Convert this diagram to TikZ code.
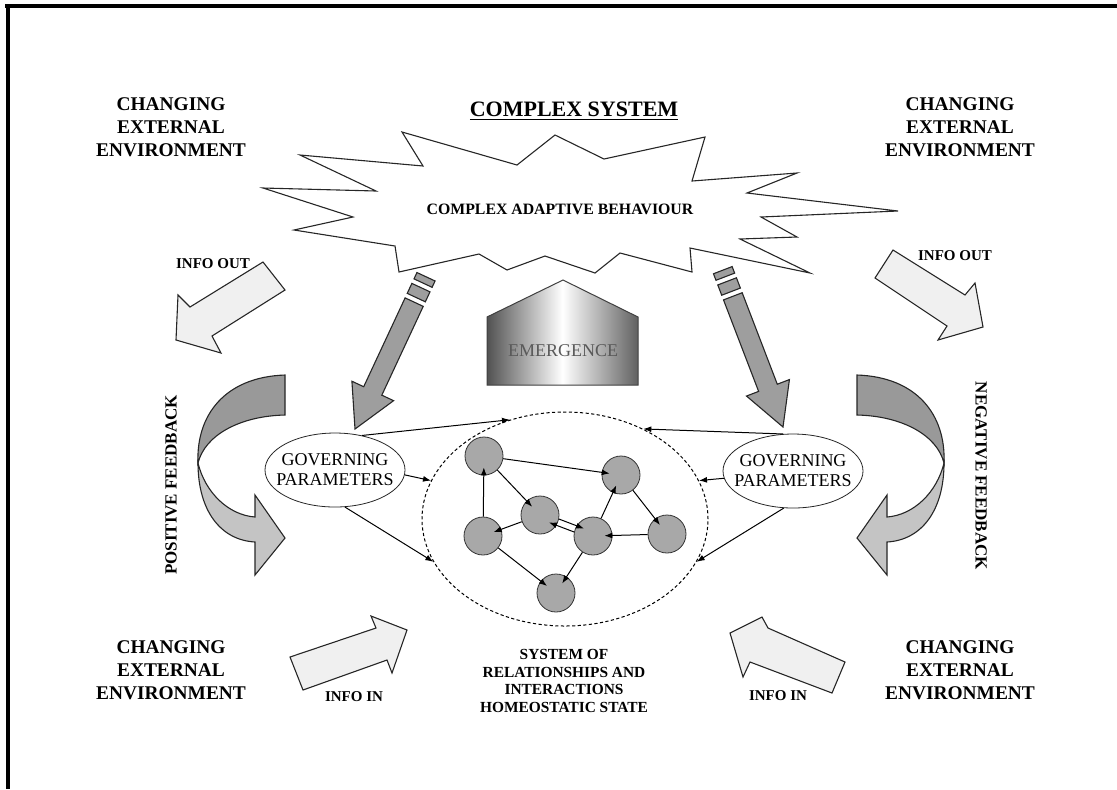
\documentclass[tikz,border=0pt]{standalone}
\usepackage{fontspec}
\setmainfont{Liberation Serif}
\usepackage{tikz}
\usetikzlibrary{arrows.meta,shapes.geometric}

\definecolor{shaftgray}{gray}{0.62}
\definecolor{membergray}{gray}{0.66}
\definecolor{backgray}{gray}{0.6}
\definecolor{frontgray}{gray}{0.77}
\definecolor{infogray}{gray}{0.94}

\begin{document}
\begin{tikzpicture}
	[x=0.5pt,y=-0.5pt,
	 outline/.style={draw=black!85,line width=0.55pt,line join=miter},
	 infoarrow/.style={outline,fill=infogray},
	 shaft/.style={outline,fill=shaftgray},
	 member/.style={circle,draw=black!80,fill=membergray,minimum size=19pt,inner sep=0pt},
	 govern/.style={ellipse,draw=black!85,fill=white,minimum width=70pt,minimum height=37pt,inner sep=0pt},
	 link/.style={-{Latex[length=4pt,width=3pt]},line width=0.5pt},
	 envlabel/.style={align=center,font=\fontsize{9.7}{11.5}\selectfont\bfseries},
	 infolabel/.style={font=\fontsize{7.5}{9}\selectfont\bfseries},
	 fblabel/.style={font=\fontsize{8.5}{10}\selectfont\bfseries}]
\useasboundingbox (0,0) rectangle (1117,789);
% frame
\draw[line width=1.6pt] (5,6) -- (1117,6) (8,6) -- (8,789);

% info arrows
\draw[infoarrow] (263,262) -- (285,290) -- (212,336) -- (221,353) -- (176,340) -- (178,295) -- (190,307) -- cycle;
\draw[infoarrow] (893,250) -- (965,295) -- (975,283) -- (983,327) -- (938,340) -- (947,326) -- (875,278) -- cycle;
\draw[infoarrow] (290,657) -- (376,628) -- (371,616) -- (407,630) -- (392,673) -- (387,660) -- (303,690) -- cycle;
\draw[infoarrow] (845,662) -- (768,628) -- (762,617) -- (730,633) -- (743,677) -- (750,662) -- (832,693) -- cycle;

% feedback loops (right one mirrored)
\foreach \s/\m in {0/1,1142/-1}{
\begin{scope}[shift={(\s,0)},xscale=\m]
\draw[outline,fill=backgray] (285,375) -- (285,415) .. controls (240,416) and (205,435) .. (198,463)
	.. controls (196,415) and (225,377) .. (285,375) -- cycle;
\draw[outline,fill=frontgray] (198,463) .. controls (198,510) and (220,540) .. (255,542) -- (255,575)
	-- (285,538) -- (255,495) -- (255,517) .. controls (228,515) and (205,492) .. (198,463) -- cycle;
\end{scope}}

% the burst
\draw[outline,fill=white] (263,188) -- (376,191) -- (300,155) -- (423,166) -- (402,132) -- (517,165)
	-- (555,135) -- (604,159) -- (705,137) -- (692,181) -- (797,173) -- (747,193) -- (898,211)
	-- (761,217) -- (797,237) -- (740,239) -- (810,273) -- (690,248) -- (692,272) -- (620,253)
	-- (595,273) -- (545,256) -- (507,270) -- (479,254) -- (399,272) -- (395,246) -- (294,230)
	-- (353,217) -- cycle;
\node[font=\fontsize{7.9}{9}\selectfont\bfseries] (cab) at (560,209) {COMPLEX ADAPTIVE BEHAVIOUR};
\node[font=\fontsize{11}{13}\selectfont\bfseries] (title) at (574,111) {\underline{COMPLEX SYSTEM}};

% striped arrows
\foreach \tx/\ty/\r in {355/429/-25,783/427/21}{
\begin{scope}[shift={(\tx,\ty)},rotate=\r]
\draw[shaft] (0,0) -- (-23,-42) -- (-10,-42) -- (-10,-140) -- (10,-140) -- (10,-42) -- (23,-42) -- cycle;
\draw[shaft] (-10,-145) rectangle (10,-156) (-10,-161) rectangle (10,-168);
\end{scope}}

% emergence
\draw[draw=black!75,line width=0.5pt,left color=black!68,right color=black!62,middle color=white]
	(487,385) -- (487,317) -- (563,280) -- (638,317) -- (638,385) -- cycle;
\node[font=\fontsize{9}{10}\selectfont,text=black!65] (emerge) at (563,351) {EMERGENCE};

% system of relationships
\node[ellipse,draw,dash pattern=on 1.6pt off 1.2pt,line width=0.5pt,minimum width=143pt,minimum height=107pt] (sys) at (565,519) {};
\foreach \n/\x/\y in {n1/484/456,n2/621/475,n3/540/515,n4/483/536,n5/593/536,n6/667/534,n7/556/593}
	\node[member] (\n) at (\x,\y) {};
\foreach \a/\b in {n4/n1,n1/n2,n1/n3,n3/n4,n5/n2,n2/n6,n6/n5,n4/n7,n5/n7}
	\draw[link,shorten >=-4pt] (\a) -- (\b);
\draw[link,shorten >=-4pt] (n3.-12) -- (n5.148);
\draw[link,shorten >=-4pt] (n5.168) -- (n3.-32);

% governing parameters
\node[govern] (gpL) at (335,470) {};
\node[govern] (gpR) at (793,471) {};
\node[align=center,font=\fontsize{9}{10}\selectfont] (gpLtext) at (gpL) {GOVERNING\\PARAMETERS};
\node[align=center,font=\fontsize{9}{10}\selectfont] (gpRtext) at (gpR) {GOVERNING\\PARAMETERS};
\draw[link] (gpL.52) -- (sys.119);
\draw[link] (gpL.-4) -- (sys.164);
\draw[link] (gpL.-75) -- (sys.198);
\draw[link] (gpR.105) -- (sys.49);
\draw[link] (gpR.186) -- (sys.16);
\draw[link] (gpR.256) -- (sys.342);

% labels
\node[envlabel] (envTL) at (171,127) {CHANGING\\EXTERNAL\\ENVIRONMENT};
\node[envlabel] (envTR) at (960,127) {CHANGING\\EXTERNAL\\ENVIRONMENT};
\node[envlabel] (envBL) at (171,670) {CHANGING\\EXTERNAL\\ENVIRONMENT};
\node[envlabel] (envBR) at (960,670) {CHANGING\\EXTERNAL\\ENVIRONMENT};
\node[infolabel] (outL) at (213,264) {INFO OUT};
\node[infolabel] (outR) at (955,256) {INFO OUT};
\node[infolabel] (inL) at (354,697) {INFO IN};
\node[infolabel] (inR) at (778,696) {INFO IN};
\node[fblabel,rotate=90] (posfb) at (171,485) {POSITIVE FEEDBACK};
\node[fblabel,rotate=-90] (negfb) at (981,476) {NEGATIVE FEEDBACK};
\node[align=center,font=\fontsize{7.7}{8.85}\selectfont\bfseries] (homeo) at (564,681)
	{SYSTEM OF\\RELATIONSHIPS AND\\INTERACTIONS\\HOMEOSTATIC STATE};
\end{tikzpicture}
\end{document}
